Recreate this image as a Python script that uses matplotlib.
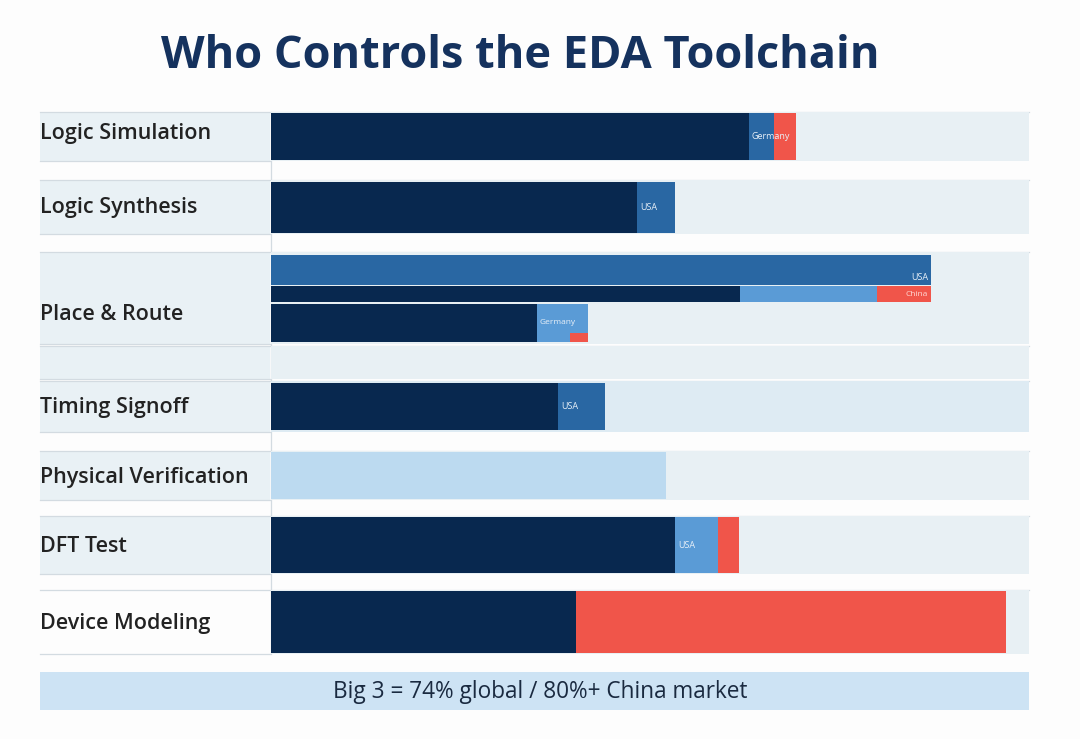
import matplotlib
matplotlib.use('Agg')
import matplotlib.pyplot as plt

# ---- data (percent of track width) ----
categories = ["Logic Simulation", "Logic Synthesis", "Place & Route", "",
              "Timing Signoff", "Physical Verification", "DFT Test", "Device Modeling"]

sim_vals = [63.0, 3.4, 2.9]
sim_labels = ["", "Germany", ""]
synth_vals = [48.3, 5.0]
synth_labels = ["", "USA"]
pnr_top_vals = [87.1]
pnr_mid_vals = [61.9, 18.1, 7.1]
pnr_low_vals = [35.1, 6.7]
pnr_low_red = 2.4
timing_vals = [37.9, 6.2]
timing_labels = ["", "USA"]
physver_vals = [52.1]
dft_vals = [53.3, 5.7, 2.8]
dft_labels = ["", "USA", ""]
device_vals = [40.2, 56.7]

title = "Who Controls the EDA Toolchain"
footer = "Big 3 = 74% global / 80%+ China market"

# ---- style ----
NAVY = '#08284f'
BLUE = '#2967a3'
LBLUE = '#5a9bd6'
RED = '#f0554a'
PALE = '#bcdaf0'
TRACK = '#e8f0f4'
LABBG = '#e9f1f5'
LINE = '#d3dbe1'

plt.rcParams['font.family'] = ['Open Sans', 'DejaVu Sans']

W, H = 1080, 739
fig = plt.figure(figsize=(W / 100, H / 100), dpi=100)
fig.patch.set_facecolor('#fdfdfd')

# background / layout axes in pixel coords
bg = fig.add_axes([0, 0, 1, 1])
bg.set_xlim(0, W); bg.set_ylim(H, 0); bg.axis('off')

# bar axes: x in percent over the track, y in pixel coords
x0, x1 = 271, 1029
ax = fig.add_axes([x0 / W, 0, (x1 - x0) / W, 1])
ax.set_xlim(0, 100); ax.set_ylim(H, 0); ax.axis('off')
ax.patch.set_alpha(0)

# row bands: (top, bottom, label bg, track color, label y)
bands = [(112, 161, LABBG, TRACK, 134),
         (180, 234, LABBG, TRACK, 207),
         (252, 344, LABBG, TRACK, 314),
         (346, 379, LABBG, TRACK, 362),
         (381, 432, LABBG, '#deebf3', 408),
         (451, 500, LABBG, TRACK, 477),
         (516, 574, LABBG, TRACK, 547),
         (590, 654, '#fdfdfd', TRACK, 623)]
for (t, b, lc, tc, ly), name in zip(bands, categories):
    bg.fill_between([40, 270], t, b, color=lc, lw=0)
    ax.barh((t + b) / 2, 100, height=b - t, left=0, color=tc, lw=0)
    bg.plot([40, 1029], [t, t], color=LINE, lw=0.9)
    bg.plot([40, 270], [b, b], color=LINE, lw=0.9)
    if name:
        bg.text(40, ly, name, fontsize=15.5, color='#222222', fontweight='semibold',
                va='center', ha='left')
bg.plot([270.5, 270.5], [112, 654], color=LINE, lw=0.9)


def stacked(vals, colors, yc, h, labels=None, fs=6.5):
    left = 0
    for i, (v, c) in enumerate(zip(vals, colors)):
        ax.barh(yc, v, height=h, left=left, color=c, lw=0)
        if labels and labels[i]:
            ax.text(left + 0.4, yc, labels[i], fontsize=fs, color='#e8f0f8',
                    va='center', ha='left')
        left += v
    return left


stacked(sim_vals, [NAVY, BLUE, RED], 136.5, 47, sim_labels)
stacked(synth_vals, [NAVY, BLUE], 207.5, 51, synth_labels)

end = stacked(pnr_top_vals, [BLUE], 270, 30)
ax.text(end - 0.4, 278, "USA", fontsize=6.5, color='#e8f0f8', va='center', ha='right')
end = stacked(pnr_mid_vals, [NAVY, LBLUE, RED], 294, 16)
ax.text(end - 0.4, 294, "China", fontsize=6, color='#ffd8d4', va='center', ha='right')
end = stacked(pnr_low_vals, [NAVY, LBLUE], 323, 38)
ax.barh(337.5, pnr_low_red, height=9, left=end - pnr_low_red, color=RED, lw=0)
ax.text(pnr_low_vals[0] + 0.3, 323, "Germany", fontsize=6, color='#e8f0f8', va='center', ha='left')

stacked(timing_vals, [NAVY, BLUE], 406.5, 47, timing_labels)
stacked(physver_vals, [PALE], 475.5, 47)
stacked(dft_vals, [NAVY, LBLUE, RED], 545, 56, dft_labels)
stacked(device_vals, [NAVY, RED], 622, 62)

# footer
bg.fill_between([40, 1029], 672, 710, color='#cde3f4', lw=0)
bg.text(540, 692, footer, fontsize=16.3, color='#1a2a40', ha='center', va='center')

# title
bg.text(520, 57, title, fontsize=32.5, fontweight='bold', color='#15325e',
        ha='center', va='center')

fig.savefig('out.png', dpi=100, facecolor=fig.get_facecolor())
